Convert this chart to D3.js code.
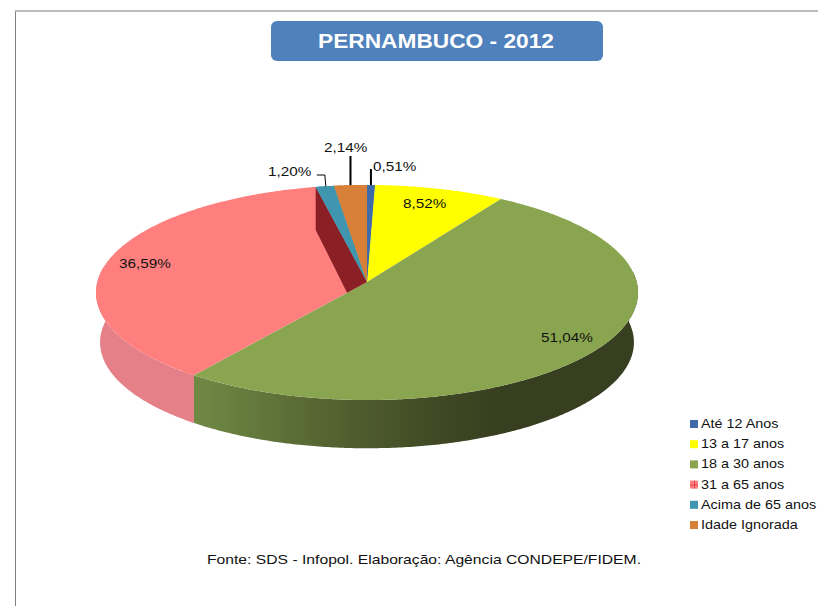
<!DOCTYPE html>
<html><head><meta charset="utf-8">
<script src="https://cdn.jsdelivr.net/npm/d3@7"></script>
<style>html,body{margin:0;padding:0;background:#fff}svg{display:block}text{font-family:"Liberation Sans",Arial,sans-serif}</style>
</head><body><svg id="c" width="818" height="606"></svg>
<script>
const categories=["Até 12 Anos","13 a 17 anos","18 a 30 anos","31 a 65 anos","Acima de 65 anos","Idade Ignorada"];
const values=[0.51,8.52,51.04,36.59,1.20,2.14];
const topColors=["#3f6ba8","#ffff00","#8aa54f","#ff7f7f","#3f96ae","#d98038"];
const labelPos=[[373,171,"start"],[403,208,"start"],[541,342,"start"],[119,268,"start"],[268,176,"start"],[324,152,"start"]];
const title="PERNAMBUCO - 2012";
const source="Fonte:  SDS - Infopol. Elaboração: Agência  CONDEPE/FIDEM.";

const svg=d3.select("#c");
const cx=367,cy=282,A=269.7,B=106.5,K=0.0977,depth=50,bottomScale=0.985;
const proj=(t,s=1,dy=0)=>{const w=1+K*Math.cos(t);return [cx+s*A*Math.sin(t)/w,cy+dy-s*B*Math.cos(t)/w];};
const rim=(a,b,s=1,dy=0)=>{const n=Math.max(2,Math.ceil((b-a)/0.01));return d3.range(n+1).map(i=>proj(a+(b-a)*i/n,s,dy));};
const line=d3.line();
const arcs=d3.pie().sort(null).value(d=>d)(values);

// stretch text horizontally, as the reference's text is wider than its height suggests
const stretch=(sel,f)=>{const w=sel.node().getComputedTextLength();sel.attr("textLength",w*f).attr("lengthAdjust","spacingAndGlyphs");};

// frame
svg.append("line").attr("x1",15.5).attr("x2",15.5).attr("y1",11).attr("y2",606).attr("stroke","#808080");
svg.append("line").attr("x1",15).attr("x2",818).attr("y1",11).attr("y2",11).attr("stroke","#a6a6a6").attr("stroke-width",1.5);

// title
svg.append("rect").attr("x",271).attr("y",21).attr("width",332).attr("height",40).attr("rx",6).attr("fill","#4f81bd");
svg.append("text").attr("x",318).attr("y",48).attr("textLength",236).attr("lengthAdjust","spacingAndGlyphs")
  .attr("font-size",20).attr("font-weight","bold").attr("fill","#fff").text(title);

// gradient for the green wall
const defs=svg.append("defs");
const g=defs.append("linearGradient").attr("id","wall").attr("gradientUnits","userSpaceOnUse").attr("x1",193).attr("x2",500).attr("y1",0).attr("y2",0);
[[0,"#708a46"],[0.35,"#5a6b35"],[0.8,"#3f4823"],[1,"#383f20"]].forEach(s=>g.append("stop").attr("offset",s[0]).attr("stop-color",s[1]));

const green=arcs[2],pink=arcs[3];
const seam=proj(green.endAngle)[0];
defs.append("clipPath").attr("id","cr").append("rect").attr("x",seam).attr("y",0).attr("width",818).attr("height",606);
defs.append("clipPath").attr("id","cl").append("rect").attr("x",0).attr("y",0).attr("width",seam).attr("height",606);
const wall=(a,b)=>line(rim(a,b).concat(rim(a,b,bottomScale,depth).reverse()))+"Z";
svg.append("path").attr("clip-path","url(#cr)").attr("d",wall(Math.PI*0.47,green.endAngle+0.2)).attr("fill","url(#wall)");
svg.append("path").attr("clip-path","url(#cl)").attr("d",wall(green.endAngle-0.2,Math.PI*1.55)).attr("fill","#e58088");

// top faces
arcs.forEach((d,i)=>{
  svg.append("path").attr("d",line([[cx,cy]].concat(rim(d.startAngle,d.endAngle)))+"Z").attr("fill",topColors[i]);
});
// inner cut face of the 31-65 slice
const rimTop=proj(pink.endAngle),greenEnd=proj(green.endAngle);
const inner=[rimTop,[rimTop[0],rimTop[1]+43],d3.interpolate([cx,cy],greenEnd)(0.115),[cx,cy]];
svg.append("path").attr("d",line(inner)+"Z").attr("fill","#8a1f26");
[4,5,0].forEach(i=>{const d=arcs[i];
  svg.append("path").attr("d",line([[cx,cy]].concat(rim(d.startAngle,d.endAngle)))+"Z").attr("fill",topColors[i]);
});

// leaders
const mid=d=>proj((d.startAngle+d.endAngle)/2);
const p0=mid(arcs[0]),p5=mid(arcs[5]),p4=mid(arcs[4]);
svg.append("path").attr("d",line([[p0[0],p0[1]],[p0[0],169]])).attr("stroke","#000").attr("stroke-width",2).attr("fill","none");
svg.append("path").attr("d",line([[p5[0],p5[1]],[p5[0],156]])).attr("stroke","#000").attr("stroke-width",2).attr("fill","none");
svg.append("path").attr("d",line([[p4[0]+1,p4[1]],[p4[0],175],[p4[0]-8,175]])).attr("stroke","#000").attr("stroke-width",1).attr("fill","none");

// data labels
const fmt=v=>v.toFixed(2).replace(".",",")+"%";
values.forEach((v,i)=>{const p=labelPos[i];
  const t=svg.append("text").attr("x",p[0]).attr("y",p[1]).attr("text-anchor",p[2]).attr("font-size",13.5).attr("fill","#111").text(fmt(v));
  stretch(t,1.13);
});

// legend
const y=d3.scalePoint().domain(categories).range([424,525]);
categories.forEach((c,i)=>{
  svg.append("rect").attr("x",690).attr("y",y(c)-4).attr("width",8).attr("height",8).attr("fill",topColors[i]);
  const t=svg.append("text").attr("x",701).attr("y",y(c)+4).attr("font-size",13.5).attr("fill","#111").text(c);
  stretch(t,1.065);
});
const py=y(categories[3]);
svg.append("path").attr("d",`M690,${py+0.5}H698M694.5,${py-4}V${py+4}`).attr("stroke","#e04050").attr("stroke-width",1).attr("fill","none");

// source
svg.append("text").attr("x",207).attr("y",564).attr("textLength",434).attr("lengthAdjust","spacingAndGlyphs").attr("font-size",13.5).attr("fill","#111").text(source);
</script></body></html>
